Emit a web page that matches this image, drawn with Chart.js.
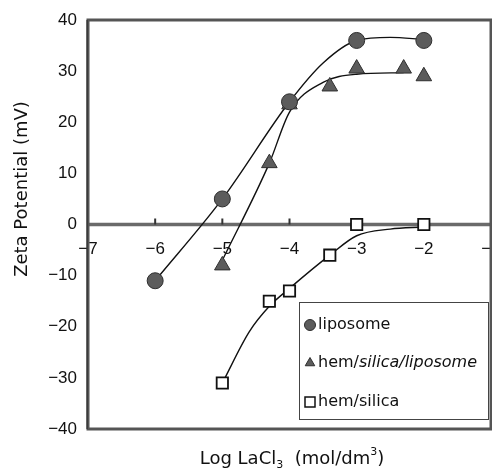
<!DOCTYPE html>
<html>
<head>
<meta charset="utf-8">
<script src="https://cdn.jsdelivr.net/npm/chart.js@4/dist/chart.umd.min.js"></script>
<style>
  html, body { margin: 0; padding: 0; background: #fff; overflow: hidden; }
</style>
</head>
<body>
<canvas id="c" width="492" height="471"></canvas>
<script>
// ---- data ----
const xTickValues = [-7, -6, -5, -4, -3, -2, -1];
const yTickValues = [-40, -30, -20, -10, 0, 10, 20, 30, 40];

const liposomeX = [-6, -5, -4, -3, -2];
const liposomeY = [-11, 5, 24, 36, 36];

const hemSilicaLiposomeX = [-5, -4.3, -4, -3.4, -3, -2.3, -2];
const hemSilicaLiposomeY = [-8, 12, 23.5, 27, 30.5, 30.5, 29];

const hemSilicaX = [-5, -4.3, -4, -3.4, -3, -2];
const hemSilicaY = [-31, -15, -13, -6, 0, 0];

// fitted curves
const liposomeCurveX = [-6, -5, -4, -3.5, -3, -2.5, -2];
const liposomeCurveY = [-11, 5, 24, 31.6, 36, 36.6, 36.2];

const hslCurveX = [-5, -4.3, -4, -3.5, -3, -2.3];
const hslCurveY = [-7, 12, 22, 27.8, 29.4, 29.7];

const hsCurveX = [-5, -4.6, -4.3, -4, -3.4, -3, -2.5, -2];
const hsCurveY = [-31, -21, -16, -12.5, -6, -2.2, -0.9, -0.5];

const seriesNames = ['liposome', 'hem/silica/liposome', 'hem/silica'];
const yTitle = 'Zeta Potential (mV)';

function pts(xs, ys) { return xs.map((x, i) => ({ x: x, y: ys[i] })); }
const minus = v => String(v).replace('-', '\u2212');

const FONT = '"Liberation Sans", Arial, sans-serif';
const WIDE = '"DejaVu Sans", sans-serif';
const markFill = '#5c5c5c';
const markEdge = '#2e2e2e';

const curveStyle = {
  showLine: true, pointRadius: 0, borderColor: '#111', borderWidth: 1.4,
  cubicInterpolationMode: 'monotone', fill: false
};

const frameAndLegend = {
  id: 'frameAndLegend',
  beforeDatasetsDraw(chart) {
    const { ctx, chartArea: a, scales } = chart;
    const y0 = scales.y.getPixelForValue(0);
    ctx.save();
    ctx.strokeStyle = '#6a6a6a';
    ctx.lineWidth = 3.5;
    ctx.beginPath();
    ctx.moveTo(a.left, y0); ctx.lineTo(a.right, y0);
    ctx.stroke();
    // small tick marks above the zero line
    ctx.strokeStyle = '#333';
    ctx.lineWidth = 2;
    scales.x.ticks.forEach(t => {
      const px = scales.x.getPixelForValue(t.value);
      if (px <= a.left + 2 || px >= a.right - 2) return;
      ctx.beginPath(); ctx.moveTo(px, y0 - 6); ctx.lineTo(px, y0); ctx.stroke();
    });
    ctx.restore();
  },
  afterDraw(chart) {
    const { ctx, chartArea: a } = chart;
    ctx.save();
    // frame
    ctx.strokeStyle = '#555';
    ctx.lineWidth = 3;
    ctx.strokeRect(a.left, a.top, a.right - a.left, a.bottom - a.top);
    ctx.lineWidth = 1;
    ctx.strokeStyle = '#222';
    ctx.beginPath(); ctx.moveTo(a.left - 1, a.top); ctx.lineTo(a.left - 1, a.bottom); ctx.stroke();

    // legend box
    const lx = 299, ly = 302, lw = 189, lh = 117;
    ctx.fillStyle = '#fff';
    ctx.fillRect(lx, ly, lw, lh);
    ctx.strokeStyle = '#444';
    ctx.lineWidth = 1;
    ctx.strokeRect(lx + 0.5, ly + 0.5, lw, lh);
    const rowsY = [325, 363, 402];
    const styles = ['circle', 'triangle', 'rect'];
    ctx.textBaseline = 'middle';
    ctx.textAlign = 'left';
    rowsY.forEach((ry, i) => {
      const px = 310;
      if (styles[i] === 'rect') {
        ctx.fillStyle = '#fff'; ctx.strokeStyle = '#111'; ctx.lineWidth = 1.5;
        ctx.fillRect(px - 5, ry - 5, 10, 10);
        ctx.strokeRect(px - 5, ry - 5, 10, 10);
      } else {
        ctx.fillStyle = markFill; ctx.strokeStyle = markEdge; ctx.lineWidth = 1;
        Chart.helpers.drawPoint(ctx, { pointStyle: styles[i], radius: 5.5, borderWidth: 1 }, px, ry);
      }
      ctx.fillStyle = '#111';
      const name = seriesNames[i];
      let tx = 318;
      if (i === 1) {
        const k = name.indexOf('/') + 1;
        ctx.font = '16px ' + WIDE;
        ctx.fillText(name.slice(0, k), tx, ry);
        tx += ctx.measureText(name.slice(0, k)).width;
        ctx.font = 'italic 16px ' + WIDE;
        ctx.fillText(name.slice(k), tx, ry);
      } else {
        ctx.font = '16px ' + WIDE;
        ctx.fillText(name, tx, ry);
      }
    });

    // y-axis title
    ctx.save();
    ctx.translate(22, 189);
    ctx.rotate(-Math.PI / 2);
    ctx.font = '18px ' + WIDE;
    ctx.textAlign = 'center';
    ctx.textBaseline = 'middle';
    ctx.fillStyle = '#111';
    ctx.fillText(yTitle, 0, 0);
    ctx.restore();

    // x-axis title with subscript / superscript
    const ty = 464;
    ctx.fillStyle = '#111';
    ctx.textBaseline = 'alphabetic';
    ctx.textAlign = 'left';
    const big = '18px ' + WIDE, small = '11px ' + WIDE;
    const parts = [['Log LaCl', big, 0], ['3', small, 4], ['  (mol/dm', big, 0], ['3', small, -9], [')', big, 0]];
    let total = 0;
    parts.forEach(p => { ctx.font = p[1]; total += ctx.measureText(p[0]).width; });
    let x = 292 - total / 2;
    parts.forEach(p => { ctx.font = p[1]; ctx.fillText(p[0], x, ty + p[2]); x += ctx.measureText(p[0]).width; });
    ctx.restore();
  }
};

new Chart(document.getElementById('c'), {
  type: 'scatter',
  data: {
    datasets: [
      Object.assign({ label: 'liposome curve', data: pts(liposomeCurveX, liposomeCurveY), order: 5 }, curveStyle),
      Object.assign({ label: 'hsl curve', data: pts(hslCurveX, hslCurveY), order: 5 }, curveStyle),
      Object.assign({ label: 'hs curve', data: pts(hsCurveX, hsCurveY), order: 5 }, curveStyle),
      { label: seriesNames[0], data: pts(liposomeX, liposomeY), pointStyle: 'circle', pointRadius: 8,
        backgroundColor: markFill, borderColor: markEdge, borderWidth: 1, order: 1 },
      { label: seriesNames[1], data: pts(hemSilicaLiposomeX, hemSilicaLiposomeY), pointStyle: 'triangle', pointRadius: 9,
        backgroundColor: markFill, borderColor: markEdge, borderWidth: 1, order: 1 },
      { label: seriesNames[2], data: pts(hemSilicaX, hemSilicaY), pointStyle: 'rect', pointRadius: 8,
        backgroundColor: '#fff', borderColor: '#111', borderWidth: 1.8, order: 1 }
    ]
  },
  options: {
    responsive: false,
    animation: false,
    layout: { autoPadding: false, padding: { left: 0, right: 1, top: 20, bottom: 42 } },
    plugins: { legend: { display: false }, tooltip: { enabled: false } },
    scales: {
      x: {
        type: 'linear', min: -7, max: -1,
        position: { y: 0 },
        afterBuildTicks: s => { s.ticks = xTickValues.map(v => ({ value: v })); },
        afterFit: s => { s.paddingLeft = 0; s.paddingRight = 0; },
        ticks: { callback: v => minus(v), font: { size: 17, family: FONT }, color: '#111', padding: 7 },
        grid: { display: false },
        border: { display: false }
      },
      y: {
        type: 'linear', min: -40, max: 40,
        afterBuildTicks: s => { s.ticks = yTickValues.map(v => ({ value: v })); },
        afterFit: s => { s.width = 88; s.paddingTop = 0; s.paddingBottom = 0; },
        ticks: { callback: v => minus(v), font: { size: 17, family: FONT }, color: '#111', padding: 11 },
        grid: { display: false, drawTicks: false },
        border: { display: false },
        title: { display: false }
      }
    }
  },
  plugins: [frameAndLegend]
});
</script>
</body>
</html>
